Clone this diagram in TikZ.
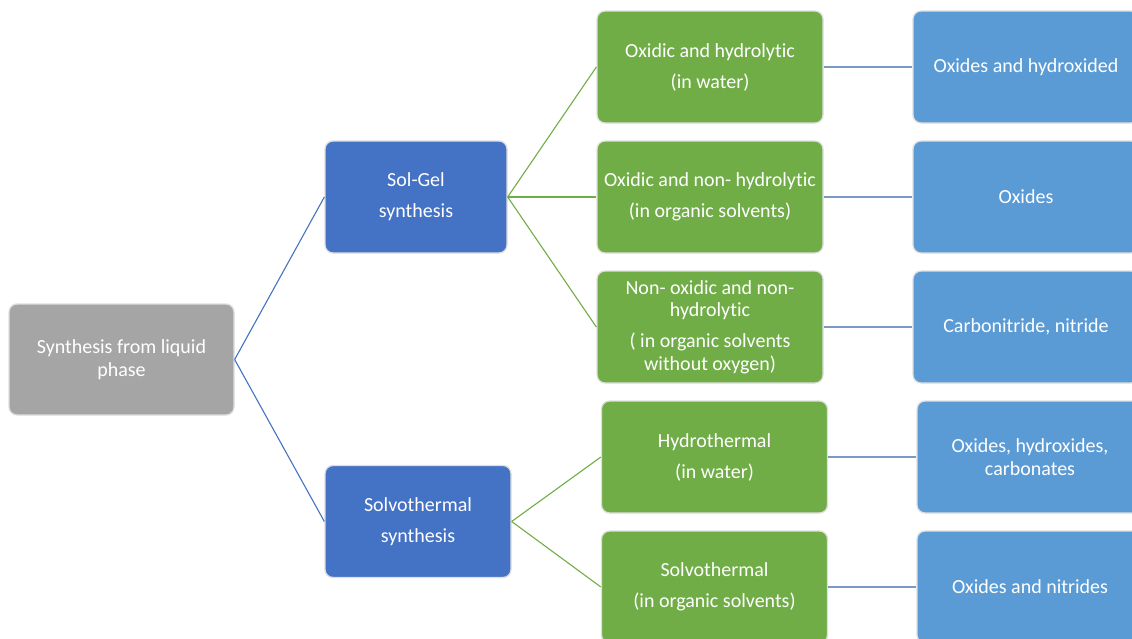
\documentclass[tikz,border=0pt]{standalone}
\usepackage{fontspec}
\setmainfont{Carlito}[Ligatures={NoCommon}]
\usepackage{tikz}
\usetikzlibrary{positioning}
\definecolor{rootgray}{HTML}{A5A5A5}
\definecolor{midblue}{HTML}{4472C4}
\definecolor{leafgreen}{HTML}{70AD47}
\definecolor{endblue}{HTML}{5B9BD5}
\definecolor{linkblue}{HTML}{7B99C6}
\tikzset{>=latex}
\tikzset{
  box/.style={draw=black!13, line width=1.3pt, rounded corners=8pt, text=white,
    align=center, inner sep=0pt, minimum height=112pt,
    font=\fontsize{20}{22.5}\selectfont},
  rootbox/.style={box, fill=rootgray, minimum width=225pt, minimum height=111pt},
  midbox/.style={box, fill=midblue, minimum width=#1},
  greenbox/.style={box, fill=leafgreen, minimum width=226pt},
  endbox/.style={box, fill=endblue, minimum width=226pt},
  rootlink/.style={midblue, line width=1.1pt},
  greenlink/.style={leafgreen, line width=1.1pt},
  endlink/.style={linkblue, line width=1.1pt}
}

\begin{document}
\begin{tikzpicture}[x=1pt, y=-1pt]

% Page frame
\useasboundingbox (0,0) rectangle (1132,638);

% Root
\node[rootbox] (liquid) at (121.5,359.5) {Synthesis from liquid\\phase};

% Second level
\node[midbox=182pt] (solgel) at (416,197) {Sol-Gel\\[8.5pt]synthesis};
\node[midbox=186pt] (solvo) at (418,521.5) {Solvothermal\\[8.5pt]synthesis};

% Third level (routes)
\node[greenbox] (hydro) at (710,67) {Oxidic and hydrolytic\\[8.5pt](in water)};
\node[greenbox] (nonhydro) at (710,197) {Oxidic and non- hydrolytic\\[8.5pt](in organic solvents)};
\node[greenbox] (nonox) at (710,327) {Non- oxidic and non-\\hydrolytic\\[8.5pt]( in organic solvents\\without oxygen)};
\node[greenbox] (hydrotherm) at (714.5,457) {Hydrothermal\\[8.5pt](in water)};
\node[greenbox] (solvotherm) at (714.5,587) {Solvothermal\\[8.5pt](in organic solvents)};

% Fourth level (products)
\node[endbox] (oxhyd) at (1026,67) {Oxides and hydroxided};
\node[endbox] (oxides) at (1026,197) {Oxides};
\node[endbox] (nitride) at (1026,327) {Carbonitride, nitride};
\node[endbox] (carbon) at (1030,457) {Oxides, hydroxides,\\carbonates};
\node[endbox] (oxnit) at (1030,587) {Oxides and nitrides};

% Links from root
\draw[rootlink] (liquid.east) -- (solgel.west);
\draw[rootlink] (liquid.east) -- (solvo.west);

% Links to routes
\draw[greenlink] (solgel.east) -- (hydro.west);
\draw[greenlink] (solgel.east) -- (nonhydro.west);
\draw[greenlink] (solgel.east) -- (nonox.west);
\draw[greenlink] (solvo.east) -- (hydrotherm.west);
\draw[greenlink] (solvo.east) -- (solvotherm.west);

% Links to products
\draw[endlink] (hydro.east) -- (oxhyd.west);
\draw[endlink] (nonhydro.east) -- (oxides.west);
\draw[endlink] (nonox.east) -- (nitride.west);
\draw[endlink] (hydrotherm.east) -- (carbon.west);
\draw[endlink] (solvotherm.east) -- (oxnit.west);

\end{tikzpicture}
\end{document}
